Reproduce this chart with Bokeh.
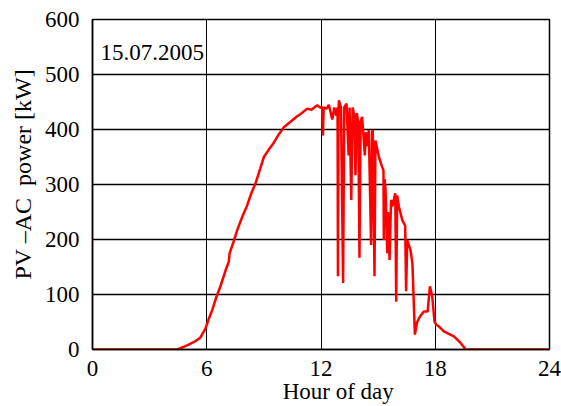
from bokeh.plotting import figure
from bokeh.models import Label, FixedTicker, Range1d, Title
from bokeh.embed import file_html
from bokeh.resources import INLINE

# PV AC power over the day, 15.07.2005
hours = [0.0, 4.45, 5.0, 5.4, 5.67, 5.93, 6.1, 6.29, 6.5, 6.72, 7.0, 7.16, 7.2, 7.4, 7.6,
         7.85, 8.12, 8.35, 8.56, 8.8, 9.0, 9.25, 9.52, 9.8, 10.05, 10.4, 10.75, 11.0,
         11.28, 11.5, 11.8, 11.95, 12.06, 12.1, 12.14, 12.3, 12.41, 12.5, 12.59, 12.7,
         12.8, 12.87, 12.89, 12.92, 12.94, 13.05, 13.16, 13.22, 13.34, 13.45, 13.5,
         13.59, 13.66, 13.75, 13.81, 13.88, 13.96, 14.02, 14.08, 14.16, 14.25, 14.3,
         14.36, 14.45, 14.51, 14.63, 14.68, 14.72, 14.81, 14.86, 15.04, 15.21, 15.28,
         15.3, 15.34, 15.39, 15.48, 15.52, 15.6, 15.68, 15.75, 15.9, 15.95, 16.0, 16.09,
         16.27, 16.42, 16.47, 16.53, 16.7, 16.8, 16.93, 17.05, 17.2, 17.4, 17.6, 17.72,
         17.84, 17.96, 18.05, 18.19, 18.45, 18.98, 19.33, 19.6, 24.0]
power_kw = [0, 0, 8, 15, 22, 38, 55, 72, 95, 115, 145, 160, 175, 195, 217,
            240, 262, 285, 302, 328, 350, 363, 376, 392, 404, 414, 424, 430,
            438, 436, 444, 440, 441, 389, 440, 438, 445, 432, 418, 440,
            425, 440, 133, 430, 453, 440, 121, 440, 447, 353, 440,
            272, 440, 425, 317, 430, 410, 167, 415, 423, 380, 353,
            395, 370, 399, 190, 395, 399, 133, 380, 350, 332, 326,
            199, 310, 290, 175, 250, 163, 272, 260, 284, 87, 280, 260,
            235, 225, 106, 199, 181, 157, 27, 50, 60, 69, 69, 115,
            97, 51, 45, 42, 33, 24, 12, 0, 0]

x_ticks = [0, 6, 12, 18, 24]
y_ticks = [0, 100, 200, 300, 400, 500, 600]

serif = "Liberation Serif"
nbsp = "\u00a0"

p = figure(width=561, height=406, output_backend="svg", toolbar_location=None,
           x_range=Range1d(0, 24), y_range=Range1d(0, 600),
           min_border_left=92, min_border_right=12, min_border_top=19,
           min_border_bottom=56)

p.line(hours, power_kw, line_color="#ff0000", line_width=2.5)

p.xaxis.ticker = FixedTicker(ticks=x_ticks)
p.yaxis.ticker = FixedTicker(ticks=y_ticks)
for ax in (p.xaxis, p.yaxis):
    ax.major_label_text_font = serif
    ax.major_label_text_font_size = "23px"
    ax.major_label_text_color = "black"
    ax.major_tick_line_color = None
    ax.minor_tick_line_color = None
    ax.axis_line_color = "black"
    ax.axis_line_width = 1.5
p.xaxis.major_label_standoff = 5
p.yaxis.major_label_standoff = 7

p.xaxis.axis_label = nbsp * 6 + "Hour of day"
p.xaxis.axis_label_standoff = 0
p.xaxis.axis_label_text_font = serif
p.xaxis.axis_label_text_font_size = "23px"
p.xaxis.axis_label_text_font_style = "normal"
p.xaxis.axis_label_text_color = "black"

# vertical axis title, anchored from the bottom of the frame
p.add_layout(Title(text="PV \u2013AC" + nbsp * 2 + "power [kW]", align="left",
                   offset=70, standoff=12, text_font=serif,
                   text_font_size="24px", text_font_style="normal",
                   text_color="black"), "left")

p.xgrid.ticker = FixedTicker(ticks=x_ticks)
p.ygrid.ticker = FixedTicker(ticks=y_ticks)
p.xgrid.grid_line_color = "black"
p.xgrid.grid_line_width = 1
p.ygrid.grid_line_color = "black"
p.ygrid.grid_line_width = 1.5

p.outline_line_color = "black"
p.outline_line_width = 1.5

p.add_layout(Label(x=0.42, y=540, text="15.07.2005", text_font=serif,
                   text_font_size="23px", text_color="black",
                   text_baseline="alphabetic"))

open("out.html", "w").write(file_html(p, INLINE))
